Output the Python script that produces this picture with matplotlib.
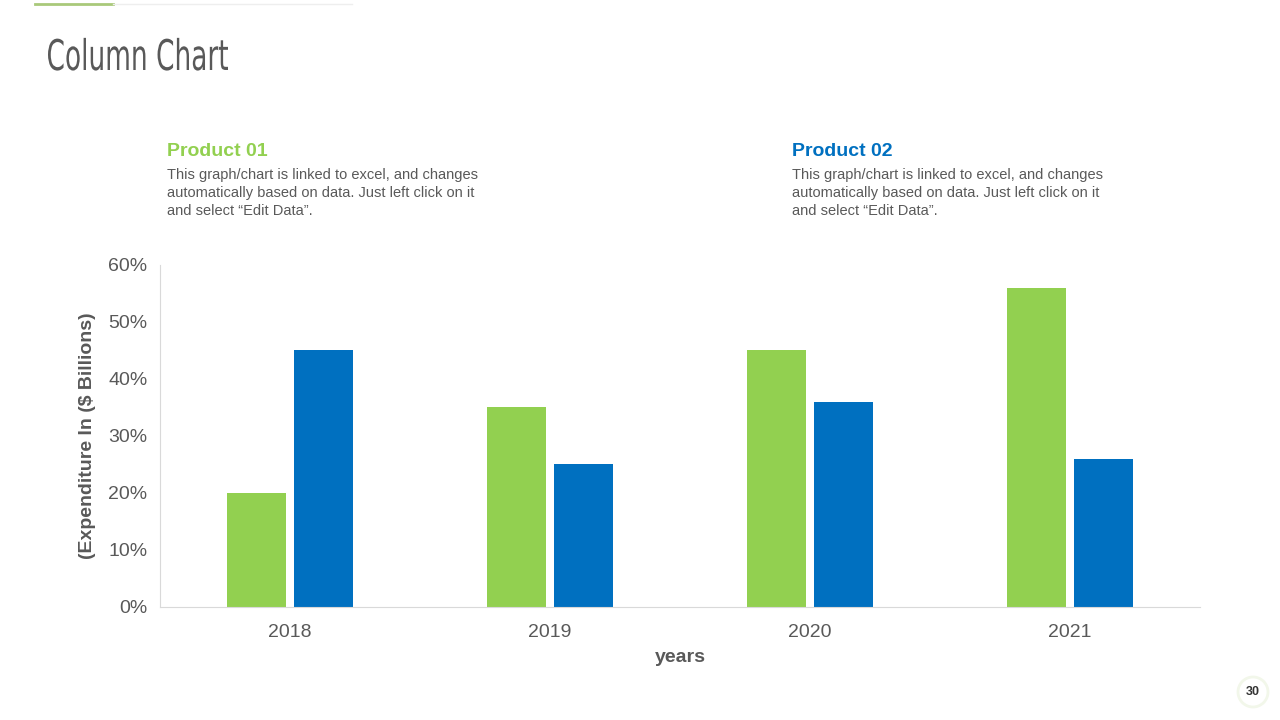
import numpy as np
import matplotlib.pyplot as plt
from matplotlib.ticker import FuncFormatter
from matplotlib.textpath import TextPath
from matplotlib.patches import PathPatch, Ellipse
from matplotlib.font_manager import FontProperties
from matplotlib.transforms import Affine2D

# data
years = ['2018', '2019', '2020', '2021']
product1 = [20, 35, 45, 56]
product2 = [45, 25, 36, 26]

green = '#92D050'
blue = '#0070C0'
grey = '#595959'

plt.rcParams['font.family'] = ['Liberation Sans', 'DejaVu Sans']

fig = plt.figure(figsize=(12.8, 7.2), dpi=100)
ax = fig.add_axes([0.125, 0.157, 0.8125, 0.475])

x = np.arange(len(years))
w = 0.227
ax.bar(x - 0.129, product1, width=w, color=green)
ax.bar(x + 0.129, product2, width=w, color=blue)

ax.set_xlim(-0.5, len(years) - 0.5)
ax.set_ylim(0, 60)
ax.set_yticks(range(0, 61, 10))
ax.yaxis.set_major_formatter(FuncFormatter(lambda v, p: '%d%%' % v))
ax.set_xticks(x)
ax.set_xticklabels(years)
ax.tick_params(axis='both', length=0, labelsize=14, colors=grey, pad=12)
ax.tick_params(axis='y', pad=9)
for s in ['top', 'right']:
    ax.spines[s].set_visible(False)
for s in ['left', 'bottom']:
    ax.spines[s].set_color('#D9D9D9')

ax.set_xlabel('years', fontsize=14, fontweight='bold', color=grey, labelpad=6)
ax.set_ylabel('(Expenditure In ($ Billions)', fontsize=14, fontweight='bold', color=grey, labelpad=9)

# title: squeezed text path to mimic the narrow slide font
fp = FontProperties(family='DejaVu Sans')
tp = TextPath((0, 0), 'Column Chart', size=44, prop=fp)
cap = TextPath((0, 0), 'C', size=44, prop=fp).get_extents()
ext = tp.get_extents()
tr = (Affine2D().translate(-ext.x0, 0)
      .scale(180 / ext.width / 1280, 32 / cap.height / 720)
      .translate(48 / 1280, (720 - 70) / 720) + fig.transFigure)
fig.add_artist(PathPatch(tp, transform=tr, facecolor=grey, edgecolor='none'))

fig.add_artist(plt.Line2D([35/1280, 113/1280], [1-4/720, 1-4/720], color='#A9C97A', lw=2))
fig.add_artist(plt.Line2D([113/1280, 352/1280], [1-4/720, 1-4/720], color='#EEEEEE', lw=1))

body = 'This graph/chart is linked to excel, and changes\nautomatically based on data. Just left click on it\nand select \u201cEdit Data\u201d.'
fig.text(167/1280, 1-152/720, 'Product 01', fontsize=14, fontweight='bold', color=green, va='center')
fig.text(167/1280, 1-168/720, body, fontsize=10.5, color=grey, va='top', linespacing=1.35)
fig.text(792/1280, 1-152/720, 'Product 02', fontsize=14, fontweight='bold', color=blue, va='center')
fig.text(792/1280, 1-168/720, body, fontsize=10.5, color=grey, va='top', linespacing=1.35)

fig.add_artist(Ellipse((1253/1280, 1-692/720), 30/1280, 30/720, transform=fig.transFigure,
                       facecolor='none', edgecolor='#F2F7EA', lw=2))
fig.text(1253/1280, 1-692/720, '30', fontsize=9, fontweight='bold', color='#333333', ha='center', va='center')

fig.savefig('out.png', dpi=100)
